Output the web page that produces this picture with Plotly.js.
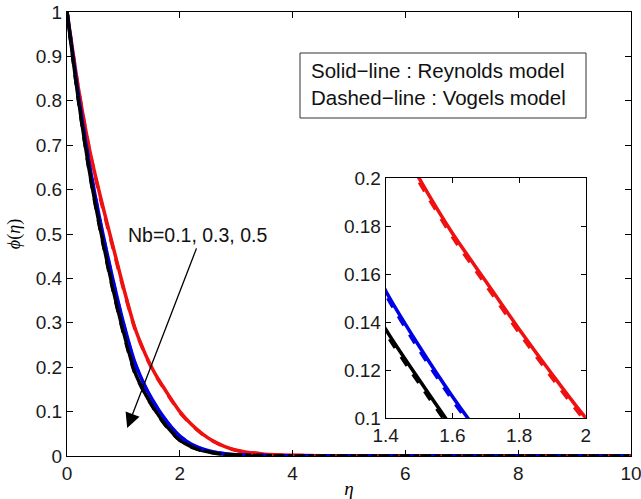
<!DOCTYPE html>
<html>
<head>
<meta charset="utf-8">
<script src="https://cdn.plot.ly/plotly-3.0.1.min.js"></script>
<style>html,body{margin:0;padding:0;background:#fff;}#chart{width:641px;height:499px;}</style>
</head>
<body>
<div id="chart"></div>
<script>
// eta grid
const eta = [0,0.2,0.4,0.6,0.8,1.0,1.2,1.4,1.5,1.6,1.7,1.8,1.9,2.0,2.2,2.4,2.6,2.8,3.0,3.5,4,5,6,7,8,9,10];
// Nb = 0.1 (red)
const phiNb01Reynolds = [1,0.83,0.69,0.58,0.48,0.38,0.29,0.226,0.2,0.177,0.157,0.137,0.118,0.1,0.072,0.05,0.033,0.021,0.013,0.004,0.0015,0.0002,0,0,0,0,0];
const phiNb01Vogels   = [1,0.828,0.687,0.576,0.476,0.377,0.288,0.2245,0.1985,0.1755,0.1555,0.1355,0.1165,0.0985,0.071,0.049,0.0325,0.0205,0.0127,0.0039,0.0014,0.0002,0,0,0,0,0];
// Nb = 0.3 (blue)
const phiNb03Reynolds = [1,0.815,0.655,0.522,0.405,0.3,0.212,0.153,0.13,0.109,0.09,0.073,0.058,0.045,0.027,0.016,0.009,0.005,0.003,0.001,0.0003,0,0,0,0,0,0];
const phiNb03Vogels   = [1,0.813,0.652,0.519,0.402,0.297,0.209,0.1515,0.1285,0.1075,0.0887,0.0718,0.057,0.0441,0.0264,0.0156,0.0088,0.0049,0.0029,0.001,0.0003,0,0,0,0,0,0];
// Nb = 0.5 (black)
const phiNb05Reynolds = [1,0.805,0.64,0.505,0.385,0.28,0.19,0.137,0.116,0.096,0.078,0.062,0.048,0.036,0.021,0.012,0.007,0.004,0.0025,0.0008,0.0002,0,0,0,0,0,0];
const phiNb05Vogels   = [1,0.803,0.637,0.502,0.382,0.277,0.188,0.1355,0.1145,0.0946,0.0768,0.0608,0.047,0.0352,0.0205,0.0117,0.0068,0.0039,0.0024,0.0008,0.0002,0,0,0,0,0,0];

const mainXTicks = [0,2,4,6,8,10];
const insetXTicks = [1.4,1.6,1.8,2];
const legendLines = ["Solid\u2212line : Reynolds model", "Dashed\u2212line : Vogels model"];
const nbLabel = "Nb=0.1, 0.3, 0.5";

const RED = '#f01010', BLUE = '#0000e6', BLACK = '#000000';
const series = [
  {y: phiNb01Reynolds, c: RED, dash: 'solid'},
  {y: phiNb03Reynolds, c: BLUE, dash: 'solid'},
  {y: phiNb05Reynolds, c: BLACK, dash: 'solid'},
  {y: phiNb01Vogels, c: RED, dash: 'dash'},
  {y: phiNb03Vogels, c: BLUE, dash: 'dash'},
  {y: phiNb05Vogels, c: BLACK, dash: 'dash'}
];
const traces = [];
series.forEach(s => {
  traces.push({x: eta, y: s.y, type: 'scatter', mode: 'lines', xaxis: 'x', yaxis: 'y',
    line: {color: s.c, width: 3.5, dash: s.dash, shape: 'spline', smoothing: 0.6}, hoverinfo: 'skip'});
});
series.forEach(s => {
  traces.push({x: eta, y: s.y, type: 'scatter', mode: 'lines', xaxis: 'x2', yaxis: 'y2',
    line: {color: s.c, width: 3.5, dash: s.dash, shape: 'spline', smoothing: 0.6}, hoverinfo: 'skip'});
});

const FONT = 'Liberation Sans, Arial, sans-serif';
const axCommon = {
  showgrid: false, zeroline: false, showline: true, linecolor: '#000', linewidth: 1,
  mirror: 'ticks', ticks: 'inside', ticklen: 6, tickcolor: '#000', tickwidth: 1,
  ticklabeloverflow: 'allow',
  tickfont: {family: FONT, size: 19, color: '#1a1a1a'}
};

const layout = {
  width: 641, height: 499,
  margin: {l: 67, r: 10, t: 12, b: 43},
  paper_bgcolor: '#fff', plot_bgcolor: '#fff',
  showlegend: false,
  xaxis: Object.assign({}, axCommon, {
    domain: [0, 1], range: [0, 10], tickvals: mainXTicks,
    title: {text: '<i>\u03b7</i>', font: {family: 'Liberation Serif, serif', size: 19, color: '#000'}, standoff: 0}
  }),
  yaxis: Object.assign({}, axCommon, {
    domain: [0, 1], range: [0, 1], dtick: 0.1, tick0: 0,
    title: {text: '<i>\u03d5</i>(<i>\u03b7</i>)', font: {family: 'Liberation Serif, DejaVu Serif, serif', size: 18, color: '#000'}, standoff: 10}
  }),
  xaxis2: Object.assign({}, axCommon, {
    domain: [0.565, 0.92], anchor: 'y2', range: [1.4, 2], tickvals: insetXTicks, ticklen: 5
  }),
  yaxis2: Object.assign({}, axCommon, {
    domain: [0.0856, 0.626], anchor: 'x2', range: [0.1, 0.2], dtick: 0.02, tick0: 0.1, ticklen: 5
  }),
  shapes: [
    {type: 'rect', xref: 'paper', yref: 'paper',
     x0: (300-67)/564, x1: (586-67)/564, y0: (456-118)/444, y1: (456-53)/444,
     line: {color: '#333', width: 1}, fillcolor: '#fff', layer: 'above'}
  ],
  annotations: [
    {xref: 'paper', yref: 'paper', x: (309-67)/564, y: (456-70)/444, xanchor: 'left', yanchor: 'middle',
     text: legendLines[0], showarrow: false, font: {family: FONT, size: 20.5, color: '#111'}},
    {xref: 'paper', yref: 'paper', x: (309-67)/564, y: (456-97)/444, xanchor: 'left', yanchor: 'middle',
     text: legendLines[1], showarrow: false, font: {family: FONT, size: 20.5, color: '#111'}},
    {xref: 'x', yref: 'y', x: 2.306, y: 0.498, xanchor: 'center', yanchor: 'middle',
     text: nbLabel, showarrow: false, font: {family: FONT, size: 19.5, color: '#111'}},
    {xref: 'x', yref: 'y', x: 1.067, y: 0.063, axref: 'x', ayref: 'y', ax: 2.306, ay: 0.471,
     text: '', showarrow: true, arrowhead: 2, arrowsize: 2.3, arrowwidth: 1.3, arrowcolor: '#000'}
  ]
};

Plotly.newPlot('chart', traces, layout, {displayModeBar: false, staticPlot: true});
</script>
</body>
</html>
